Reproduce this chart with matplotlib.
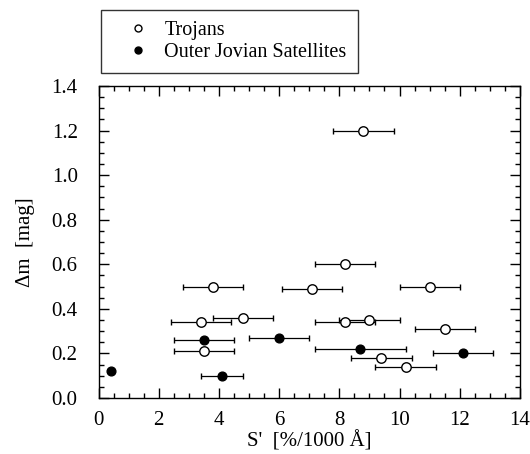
import matplotlib
matplotlib.use("Agg")
import matplotlib.pyplot as plt
from matplotlib.ticker import MultipleLocator
from matplotlib.lines import Line2D

plt.rcParams['font.family'] = ['Liberation Serif', 'DejaVu Serif']
plt.rcParams['mathtext.fontset'] = 'stix'

# Trojans (open circles)
troj_x = [8.8, 8.2, 3.8, 7.1, 11.0, 4.8, 3.4, 8.2, 9.0, 11.5, 3.5, 9.4, 10.2]
troj_y = [1.20, 0.60, 0.50, 0.49, 0.50, 0.36, 0.34, 0.34, 0.35, 0.31, 0.21, 0.18, 0.14]
troj_xerr = [1.0, 1.0, 1.0, 1.0, 1.0, 1.0, 1.0, 1.0, 1.0, 1.0, 1.0, 1.0, 1.0]

# Outer Jovian satellites (filled circles)
sat_x = [0.4, 3.5, 6.0, 8.7, 12.1, 4.1]
sat_y = [0.12, 0.26, 0.27, 0.22, 0.20, 0.10]
sat_xerr = [0.0, 1.0, 1.0, 1.5, 1.0, 0.7]

x_ticks = [0, 2, 4, 6, 8, 10, 12, 14]
y_ticks = [0.0, 0.2, 0.4, 0.6, 0.8, 1.0, 1.2, 1.4]

fig = plt.figure(figsize=(5.30, 4.54), dpi=100)
ax = fig.add_axes([0.186, 0.1233, 0.795, 0.6873])

ax.errorbar(troj_x, troj_y, xerr=troj_xerr, fmt='o', mfc='white', mec='black',
            ms=6.8, mew=1.0, ecolor='black', elinewidth=0.9, capsize=2, capthick=0.9,
            zorder=3)
ax.errorbar(sat_x, sat_y, xerr=sat_xerr, fmt='o', mfc='black', mec='black',
            ms=6.3, mew=1.0, ecolor='black', elinewidth=0.9, capsize=2, capthick=0.9,
            zorder=3)

ax.set_xlim(0, 14)
ax.set_ylim(0.0, 1.4)
ax.set_xticks(x_ticks)
ax.set_yticks(y_ticks)
ax.set_xticklabels([str(v) for v in x_ticks])
ax.set_yticklabels([f"{v:.1f}" for v in y_ticks])
ax.xaxis.set_minor_locator(MultipleLocator(0.5))
ax.yaxis.set_minor_locator(MultipleLocator(0.05))
ax.tick_params(which='both', direction='in', top=True, right=True, width=1.0)
ax.tick_params(which='major', length=7, labelsize=15)
ax.tick_params(axis='x', which='major', pad=9)
ax.tick_params(axis='y', which='major', pad=15)
ax.tick_params(which='minor', length=3.6)
for s in ax.spines.values():
    s.set_linewidth(1.0)

ax.set_xlabel("S'  [%/1000 Å]", fontsize=15, labelpad=1)
ax.set_ylabel("Δm  [mag]", fontsize=15, labelpad=12)

handles = [
    Line2D([], [], ls='none', marker='o', mfc='white', mec='black', ms=5, mew=1.0),
    Line2D([], [], ls='none', marker='o', mfc='black', mec='black', ms=5, mew=1.0),
]
leg = fig.legend(handles, ['Trojans', 'Outer Jovian Satellites'],
                 loc='upper left', bbox_to_anchor=(101 / 530, 1 - 10 / 454),
                 fontsize=14.5, frameon=True, fancybox=False, edgecolor='black',
                 borderpad=0.55, handlelength=2.6, handletextpad=0.0,
                 labelspacing=0.15, borderaxespad=0)
leg.get_frame().set_linewidth(1.0)

fig.savefig("out.png", dpi=100)
